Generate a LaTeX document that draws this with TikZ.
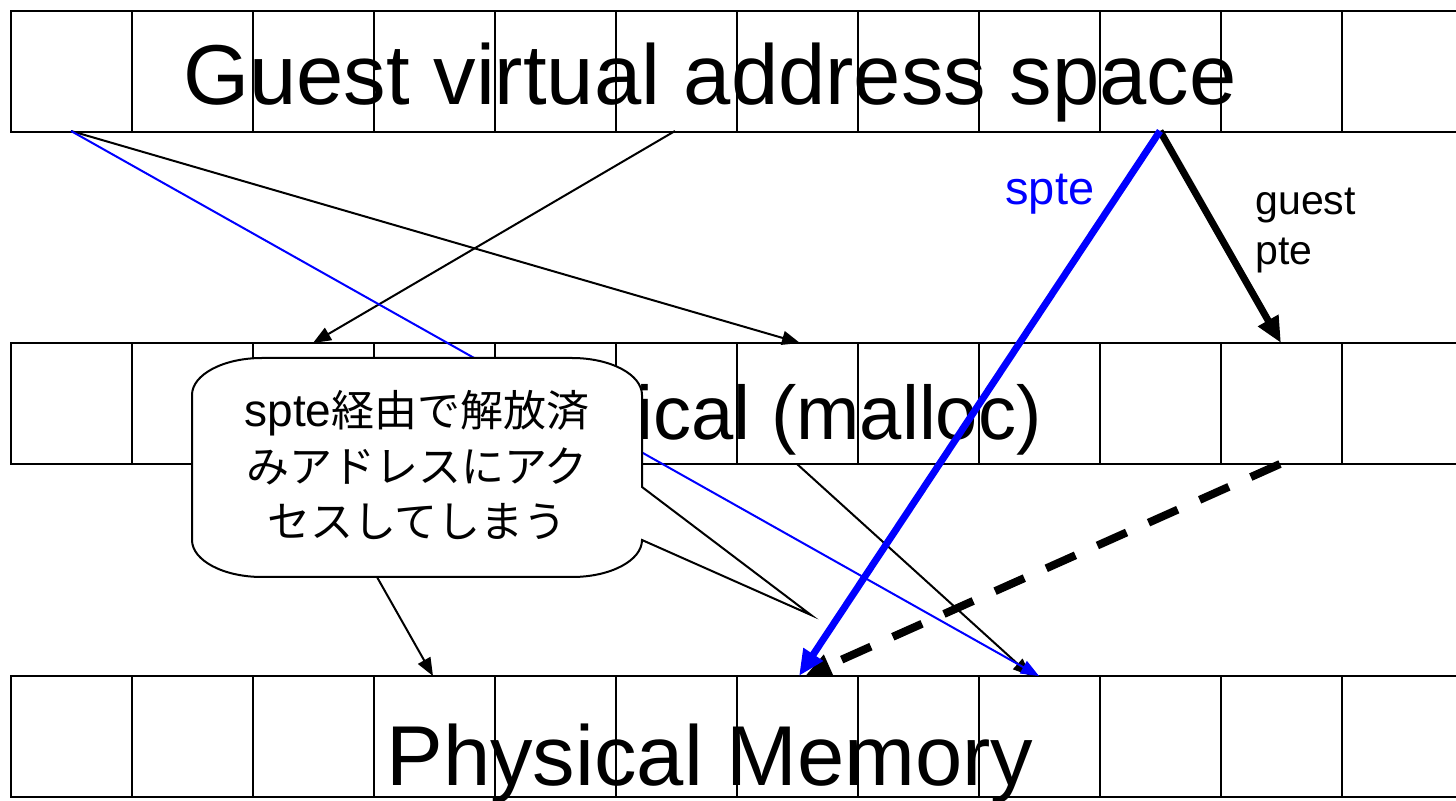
\documentclass[tikz,border=0pt]{standalone}
\usepackage{fontspec}
\setmainfont{Liberation Sans}
\newfontfamily\cjk{Noto Sans CJK JP}
\usetikzlibrary{arrows.meta}
\begin{document}
\begin{tikzpicture}[x=0.5pt,y=-0.5pt,
  cellbox/.style={draw=black,line width=1pt},
  bigtext/.style={inner sep=0pt,font=\fontsize{42.5pt}{51pt}\selectfont},
  midtext/.style={inner sep=0pt,font=\fontsize{38pt}{46pt}\selectfont},
  thinarrow/.style={draw=black,line width=1pt,-{Triangle[length=9pt,width=7pt]}},
  thinblue/.style={draw=blue,line width=1pt,-{Triangle[length=9pt,width=7pt]}},
  thickarrow/.style={line width=3.5pt,-{Triangle[length=13pt,width=11pt]}},
  calloutbox/.style={draw=black,line width=1pt,fill=white},
]
\useasboundingbox (0,0) rectangle (1456,801);
\clip (0,0) rectangle (1456,801);
\fill[white] (0,0) rectangle (1456,801);

% memory rows
\foreach \y in {11,343,676}{
  \foreach \i in {0,...,11}{
    \draw[cellbox] ({11+121*\i},\y) rectangle ++(121,121);
  }
}

% row labels
\node[bigtext,anchor=base] (gvtext) at (710,105) {Guest virtual address space};
\node[midtext,anchor=base east] (gptext) at (1042,440) {Guest physical (malloc)};
\node[bigtext,anchor=base] (pmtext) at (710,785) {Physical Memory};

% connection points
\coordinate (gvA) at (71,131);
\coordinate (gvB) at (675,131);
\coordinate (gvC) at (1160,131);
\coordinate (gpA) at (313,343);
\coordinate (gpB) at (800,343);
\coordinate (gpC) at (1281,343);
\coordinate (gpAb) at (313,464);
\coordinate (gpBb) at (797,464);
\coordinate (gpCb) at (1280,464);
\coordinate (pmA) at (433,676);
\coordinate (pmB) at (799,676);
\coordinate (pmBd) at (805,676);
\coordinate (pmC) at (1031,676);
\coordinate (pmCb) at (1039,676);
\coordinate (tip) at (811,615);

% thin mappings
\draw[thinarrow] (gvA) -- (gpB);
\draw[thinarrow] (gvB) -- (gpA);
\draw[thinarrow] (gpAb) -- (pmA);
\draw[thinarrow] (gpBb) -- (pmC);
\draw[thinblue] (gvA) -- (pmCb);

% callout
\draw[calloutbox] (262,358) -- (572,358)
  .. controls (610.7,358) and (642,374.6) .. (642,395)
  -- (642,487) -- (tip) -- (642,540)
  .. controls (642,560.4) and (610.7,577) .. (572,577)
  -- (262,577)
  .. controls (223.3,577) and (192,560.4) .. (192,540)
  -- (192,395)
  .. controls (192,374.6) and (223.3,358) .. (262,358) -- cycle;
\node[anchor=base,align=center,inner sep=0pt,font=\cjk\fontsize{21.5pt}{27.75pt}\selectfont] (note) at (417,538)
  {{\rmfamily\fontsize{23pt}{27.75pt}\selectfont spte}経由で解放済\\みアドレスにアク\\セスしてしまう};

% thick arrows
\draw[thickarrow,draw=black,line width=4pt,dash pattern=on 16pt off 12pt] (gpCb) -- (pmBd);
\draw[thickarrow,draw=black] (gvC) -- (gpC);
\draw[thickarrow,draw=blue,fill=blue] (gvC) -- (pmB);

% labels
\node[anchor=base west,inner sep=0pt,text=blue,font=\fontsize{23.5pt}{28pt}\selectfont] (sptelabel) at (1005,205) {spte};
\node[anchor=base west,align=left,inner sep=0pt,font=\fontsize{20.5pt}{25pt}\selectfont] (gptelabel) at (1255,265) {guest\\pte};
\end{tikzpicture}
\end{document}
